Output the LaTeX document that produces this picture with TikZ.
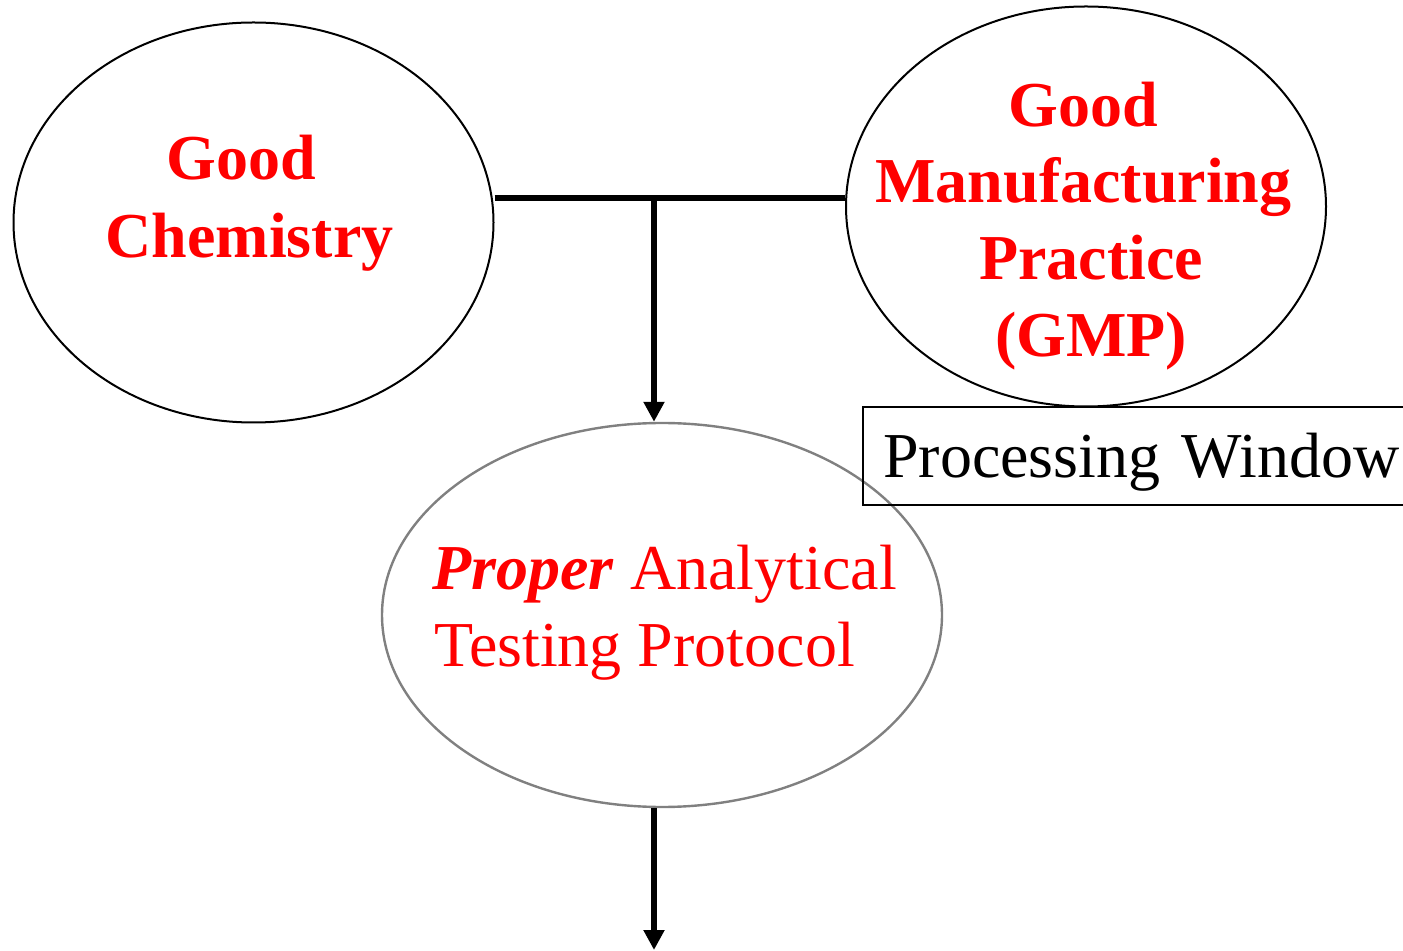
\documentclass[tikz,border=0pt]{standalone}
\usepackage{fontspec}
\setmainfont{Liberation Serif}
\usetikzlibrary{shapes.geometric,arrows.meta}
\definecolor{hdred}{RGB}{255,0,0}
\definecolor{rimgray}{RGB}{128,128,128}
\tikzset{
  bubble/.style={ellipse, draw=black, line width=1pt, inner sep=0pt,
                 minimum width=240pt, minimum height=200pt},
  testbubble/.style={ellipse, draw=rimgray, line width=1.2pt, inner sep=0pt,
                 minimum width=280pt, minimum height=192pt},
  headtext/.style={anchor=base, text=hdred, inner sep=0pt,
                 font=\fontsize{32}{38}\selectfont\bfseries},
  bodytext/.style={anchor=base west, text=hdred, inner sep=0pt,
                 font=\fontsize{32}{38}\selectfont},
  windowbox/.style={draw=black, line width=1.1pt, anchor=base west,
                 inner xsep=10pt, inner ysep=0pt, text height=35.5pt,
                 text depth=13.5pt, text width=270pt, align=left,
                 font=\fontsize{32}{38}\selectfont},
  link/.style={line width=2.6pt},
  flow/.style={line width=2.6pt, -{Triangle[width=10pt,length=10pt]}}
}
\begin{document}
\begin{tikzpicture}[x=0.5pt, y=-0.5pt]
  \useasboundingbox (0,0) rectangle (1403,951);

  % the three bubbles
  \node[bubble] (gc) at (253.5,222.5) {};
  \node[bubble] (gmp) at (1086,206.5) {};
  \node[testbubble] (pat) at (662,615) {};

  % bubble texts
  \node[headtext] (gc1) at (241,180) {Good};
  \node[headtext] (gc2) at (249.5,258) {Chemistry};

  \node[headtext] (gm1) at (1083,127) {Good};
  \node[headtext] (gm2) at (1083.5,203) {Manufacturing};
  \node[headtext] (gm3) at (1091,280) {Practice};
  \node[headtext] (gm4) at (1091,357) {(GMP)};

  \node[bodytext] (pa1) at (432,590) {\textbf{\textit{Proper}} Analytical};
  \node[bodytext] (pa2) at (434,667) {Testing Protocol};

  % processing window label
  \node[windowbox] (pw) at (862,478) {Processing Window};

  % connectors
  \coordinate (j) at (654,198);
  \coordinate (out) at (654,950);
  \draw[link] (gc.east |- j) -- (gmp.west |- j);
  \draw[flow] (j) -- (j |- pat.north);
  \draw[flow] (j |- pat.south) -- (out);
\end{tikzpicture}
\end{document}
